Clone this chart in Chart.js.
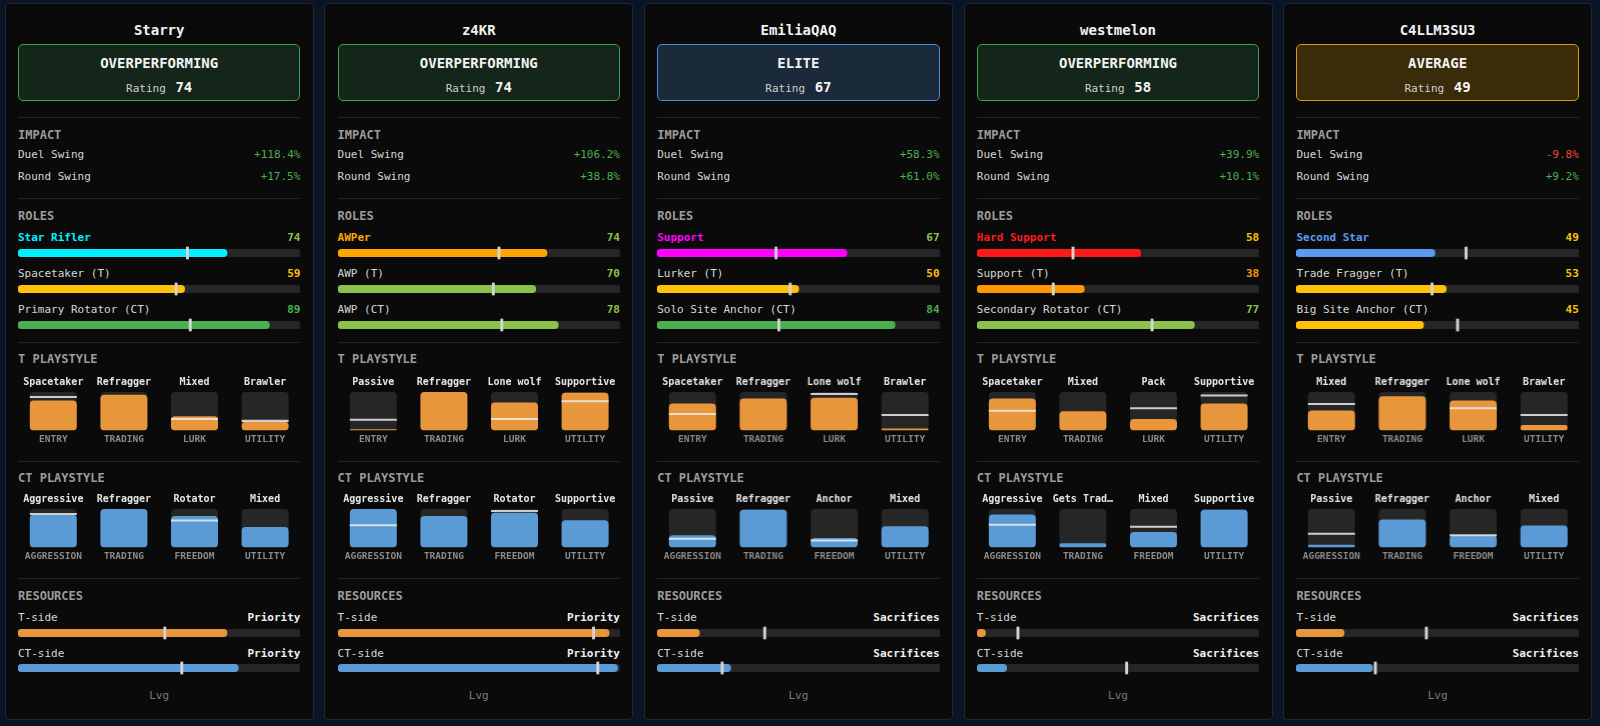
<!DOCTYPE html>
<html>
<head>
<meta charset="utf-8">
<script src="https://cdn.jsdelivr.net/npm/chart.js@4.4.1/dist/chart.umd.min.js"></script>
<style>
  body { margin:0; background:#0b1424; width:1600px; height:726px; overflow:hidden;
         font-family:'DejaVu Sans Mono', monospace; }
  .card { position:absolute; top:3px; width:309px; height:717px; box-sizing:border-box;
          border:1px solid #1d2738; border-radius:4px; background:#0a0a0a; }
  .t { position:absolute; left:12.3px; width:282.4px; height:16px; line-height:16px; white-space:nowrap; }
  .hr { position:absolute; left:12.3px; width:282.4px; height:1px; background:#242424; }
  .sec { font-size:12px; font-weight:bold; color:#9c9c9c; }
  .row { font-size:11px; color:#d6d6d6; }
  .row span { float:right; }
  .status { position:absolute; left:12.3px; width:282.4px; height:57px; top:40px; box-sizing:border-box;
            border:1px solid; border-radius:5px; }
  .cv { position:absolute; left:12.3px; width:282.4px; }
</style>
</head>
<body>
<script>
// player cards, left to right
const players = ['Starry', 'z4KR', 'EmiliaQAQ', 'westmelon', 'C4LLM3SU3'];
const tiers = ['OVERPERFORMING', 'OVERPERFORMING', 'ELITE', 'OVERPERFORMING', 'AVERAGE'];
const ratings = [74, 74, 67, 58, 49];
const duelSwing = [118.4, 106.2, 58.3, 39.9, -9.8];
const roundSwing = [17.5, 38.8, 61.0, 10.1, 9.2];

const roleNames = [
  ['Star Rifler', 'Spacetaker (T)', 'Primary Rotator (CT)'],
  ['AWPer', 'AWP (T)', 'AWP (CT)'],
  ['Support', 'Lurker (T)', 'Solo Site Anchor (CT)'],
  ['Hard Support', 'Support (T)', 'Secondary Rotator (CT)'],
  ['Second Star', 'Trade Fragger (T)', 'Big Site Anchor (CT)']
];
const roleScores = [[74, 59, 89], [74, 70, 78], [67, 50, 84], [58, 38, 77], [49, 53, 45]];
const roleAvg = [[60, 56, 61], [57, 55, 58], [42, 47, 43], [34, 27, 62], [60, 48, 57]];
const mainRoleColors = ['#00f0ff', '#ffa500', '#ff00ff', '#ff1a1a', '#5c9cf0'];

const tAxes = ['ENTRY', 'TRADING', 'LURK', 'UTILITY'];
const tStyles = [
  ['Spacetaker', 'Refragger', 'Mixed', 'Brawler'],
  ['Passive', 'Refragger', 'Lone wolf', 'Supportive'],
  ['Spacetaker', 'Refragger', 'Lone wolf', 'Brawler'],
  ['Spacetaker', 'Mixed', 'Pack', 'Supportive'],
  ['Mixed', 'Refragger', 'Lone wolf', 'Brawler']
];
const tValues = [[78, 93, 37, 23], [3, 100, 73, 98], [70, 83, 85, 5], [83, 50, 30, 70], [52, 89, 78, 14]];
const tAvg = [[87, null, 30, 25], [28, null, 30, 76], [43, null, 95, 40], [51, null, 58, 91], [69, null, 58, 40]];

const ctAxes = ['AGGRESSION', 'TRADING', 'FREEDOM', 'UTILITY'];
const ctStyles = [
  ['Aggressive', 'Refragger', 'Rotator', 'Mixed'],
  ['Aggressive', 'Refragger', 'Rotator', 'Supportive'],
  ['Passive', 'Refragger', 'Anchor', 'Mixed'],
  ['Aggressive', 'Gets Trad…', 'Mixed', 'Supportive'],
  ['Passive', 'Refragger', 'Anchor', 'Mixed']
];
const ctValues = [[85, 100, 82, 53], [100, 82, 90, 71], [32, 98, 25, 55], [86, 11, 40, 98], [7, 73, 32, 57]];
const ctAvg = [[87, null, 70, null], [58, null, 95, null], [23, null, 18, null], [59, null, 54, null], [36, null, 32, null]];

const tRes = [74, 96, 15, 3, 17];
const tResAvg = [52, 90.5, 38, 14.5, 46];
const tResLabel = ['Priority', 'Priority', 'Sacrifices', 'Sacrifices', 'Sacrifices'];
const ctRes = [78, 99, 26, 10.5, 27];
const ctResAvg = [58, 92, 23, 53, 28];
const ctResLabel = ['Priority', 'Priority', 'Sacrifices', 'Sacrifices', 'Sacrifices'];
const footer = 'Lvg';

const tierStyle = {
  OVERPERFORMING: { border: '#3f9f4a', bg: '#14251a' },
  ELITE: { border: '#4d8fd8', bg: '#1a2a3a' },
  AVERAGE: { border: '#d69e10', bg: '#3a2c0a' }
};
const T_COLOR = '#e8963c';
const CT_COLOR = '#5b9bd5';
const TRACK = '#262626';

function scoreColor(v) {
  if (v >= 80) return '#4caf50';
  if (v >= 60) return '#8bc34a';
  if (v >= 40) return '#ffc107';
  return '#ff9800';
}
function pct(v) {
  return (v >= 0 ? '+' : '') + v.toFixed(1) + '%';
}

Chart.defaults.font.family = "'DejaVu Sans Mono', monospace";

function base(extra) {
  return Object.assign({
    responsive: true, maintainAspectRatio: false, animation: false, events: [],
    layout: { padding: 0 },
    plugins: { legend: { display: false }, tooltip: { enabled: false } }
  }, extra);
}

function text(card, y, html, cls, style) {
  const d = document.createElement('div');
  d.className = 't ' + (cls || '');
  d.style.top = (y - 8) + 'px';
  if (style) d.style.cssText += style;
  d.innerHTML = html;
  card.appendChild(d);
  return d;
}
function rule(card, y) {
  const d = document.createElement('div');
  d.className = 'hr';
  d.style.top = y + 'px';
  card.appendChild(d);
}
function canvasBox(card, top, h) {
  const d = document.createElement('div');
  d.className = 'cv';
  d.style.top = top + 'px';
  d.style.height = h + 'px';
  const c = document.createElement('canvas');
  d.appendChild(c);
  card.appendChild(d);
  return c;
}

// thin horizontal meter: fill + average tick
function meter(card, y, value, avg, color) {
  const cv = canvasBox(card, y - 7, 14);
  new Chart(cv, {
    type: 'bar',
    data: {
      labels: [''],
      datasets: [
        { data: [[avg - 0.4, avg + 0.4]], backgroundColor: '#d4d4d4', barThickness: 12, grouped: false, order: 0 },
        { data: [value], backgroundColor: color, barThickness: 7.5, borderRadius: 4, borderSkipped: false, grouped: false, order: 1 },
        { data: [100], backgroundColor: TRACK, barThickness: 7.5, borderRadius: 4, borderSkipped: false, grouped: false, order: 2 }
      ]
    },
    options: base({
      indexAxis: 'y',
      scales: { x: { display: false, min: 0, max: 100 }, y: { display: false } }
    })
  });
}

// four playstyle boxes with style names on top and axis names below
function styleBoxes(card, boxTop, names, axes, values, avgs, color) {
  const cv = canvasBox(card, boxTop - 20, 77.1);
  new Chart(cv, {
    type: 'bar',
    data: {
      labels: axes,
      datasets: [
        { data: avgs.map(a => a == null ? null : [a - 2.6, a + 2.6]), backgroundColor: 'rgba(235,235,235,0.85)', order: 0 },
        { data: values, backgroundColor: color, borderRadius: 4, borderSkipped: false, order: 1 },
        { data: values.map(() => 100), backgroundColor: TRACK, borderRadius: 4, borderSkipped: false, order: 2 }
      ]
    },
    options: base({
      datasets: { bar: { grouped: false, categoryPercentage: 1, barPercentage: 0.665 } },
      scales: {
        y: { display: false, min: 0, max: 100 },
        x: {
          position: 'bottom', offset: true,
          grid: { display: false, drawTicks: false }, border: { display: false },
          ticks: { padding: 3.6, autoSkip: false, maxRotation: 0, color: '#8a8a8a',
                   font: { size: 9.5, weight: 'bold' } }
        },
        x2: {
          type: 'category', labels: names, position: 'top', offset: true,
          grid: { display: false, drawTicks: false }, border: { display: false },
          ticks: { padding: 4, autoSkip: false, maxRotation: 0, color: '#e4e4e4',
                   font: { size: 10, weight: 'bold' } }
        }
      }
    })
  });
}

players.forEach((name, i) => {
  const card = document.createElement('div');
  card.className = 'card';
  card.style.left = (4.7 + i * 319.6) + 'px';
  document.body.appendChild(card);

  text(card, 26, name, '', 'text-align:center;font-size:14px;font-weight:bold;color:#f2f2f2;');

  const ts = tierStyle[tiers[i]];
  const st = document.createElement('div');
  st.className = 'status';
  st.style.borderColor = ts.border;
  st.style.background = ts.bg;
  st.innerHTML =
    '<div style="position:absolute;left:0;right:0;top:10px;text-align:center;font-size:14px;font-weight:bold;color:#f2f2f2;line-height:16px">' + tiers[i] + '</div>' +
    '<div style="position:absolute;left:0;right:0;top:34px;text-align:center;line-height:16px;color:#cfcfcf;font-size:11px">Rating <b style="font-size:14px;color:#f4f4f4;margin-left:3px">' + ratings[i] + '</b></div>';
  card.appendChild(st);

  rule(card, 113);
  text(card, 131, 'IMPACT', 'sec');
  const swingCol = v => v >= 0 ? '#4caf50' : '#f44336';
  text(card, 151, 'Duel Swing<span style="color:' + swingCol(duelSwing[i]) + '">' + pct(duelSwing[i]) + '</span>', 'row');
  text(card, 173, 'Round Swing<span style="color:' + swingCol(roundSwing[i]) + '">' + pct(roundSwing[i]) + '</span>', 'row');

  rule(card, 194);
  text(card, 212, 'ROLES', 'sec');
  const roleY = [234, 270, 306];
  roleNames[i].forEach((rn, r) => {
    const sc = roleScores[i][r];
    const fill = r === 0 ? mainRoleColors[i] : scoreColor(sc);
    const lbl = r === 0
      ? '<b style="color:' + fill + '">' + rn + '</b>'
      : rn;
    text(card, roleY[r], lbl + '<span style="color:' + scoreColor(sc) + ';font-weight:bold">' + sc + '</span>', 'row');
    meter(card, roleY[r] + 14.5, sc, roleAvg[i][r], fill);
  });

  rule(card, 337.5);
  text(card, 355, 'T PLAYSTYLE', 'sec');
  styleBoxes(card, 387.5, tStyles[i], tAxes, tValues[i], tAvg[i], T_COLOR);

  rule(card, 456.5);
  text(card, 473.5, 'CT PLAYSTYLE', 'sec');
  styleBoxes(card, 505.3, ctStyles[i], ctAxes, ctValues[i], ctAvg[i], CT_COLOR);

  rule(card, 574);
  text(card, 591.5, 'RESOURCES', 'sec');
  text(card, 613.5, 'T-side<span style="font-weight:bold;color:#f0f0f0">' + tResLabel[i] + '</span>', 'row');
  meter(card, 628.5, tRes[i], tResAvg[i], T_COLOR);
  text(card, 649.5, 'CT-side<span style="font-weight:bold;color:#f0f0f0">' + ctResLabel[i] + '</span>', 'row');
  meter(card, 664, ctRes[i], ctResAvg[i], CT_COLOR);

  text(card, 692, footer, '', 'text-align:center;font-size:11px;color:#7a7a7a;');
});
</script>
</body>
</html>
